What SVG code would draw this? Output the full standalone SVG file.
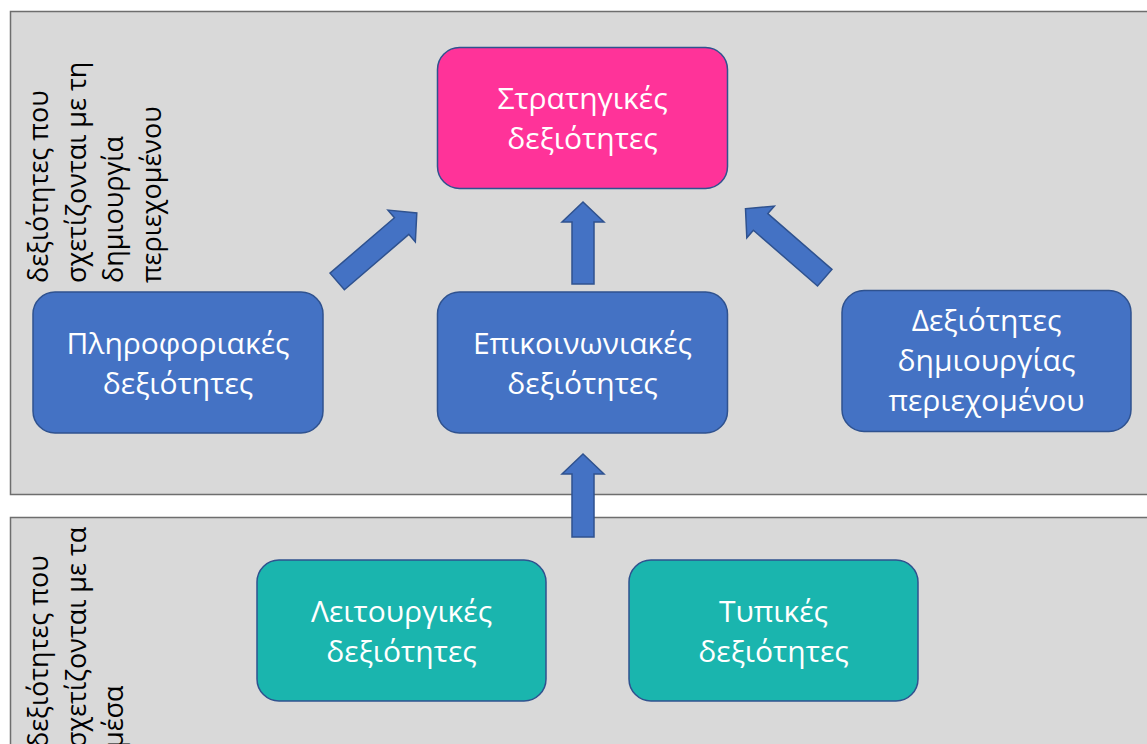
<svg xmlns="http://www.w3.org/2000/svg" width="1147" height="744" viewBox="0 0 1147 744">
  <style>
    .panel { fill: #D9D9D9; stroke: #6E6E6E; stroke-width: 1.5; }
    .box { stroke: #2F528F; stroke-width: 1.5; }
    .pink { fill: #FF3399; }
    .blue { fill: #4472C4; }
    .teal { fill: #1AB5AE; }
    .label { font-family: "Open Sans", "Noto Sans", sans-serif; font-size: 30px; fill: #FFFFFF; text-anchor: middle; }
    .side { font-family: "Open Sans", "Noto Sans", sans-serif; font-size: 27px; fill: #000000; }
    .arrow { fill: #4472C4; stroke: #2F528F; stroke-width: 1.5; stroke-linejoin: miter; }
  </style>

  <rect width="1147" height="744" fill="#FFFFFF"/>

  <!-- upper band -->
  <g id="panel-content">
    <rect class="panel" x="10.5" y="11.5" width="1150" height="483"/>
    <text class="side" transform="translate(48,283) rotate(-90)">δεξιότητες που</text>
    <text class="side" transform="translate(85.5,283) rotate(-90)">σχετίζονται με τη</text>
    <text class="side" transform="translate(123,283) rotate(-90)">δημιουργία</text>
    <text class="side" transform="translate(160.5,283) rotate(-90)">περιεχομένου</text>
  </g>

  <!-- lower band; its caption runs past the bottom edge -->
  <g id="panel-media">
    <rect class="panel" x="10.5" y="517.5" width="1150" height="240"/>
    <text class="side" transform="translate(48,748) rotate(-90)">δεξιότητες που</text>
    <text class="side" transform="translate(85.5,748) rotate(-90)">σχετίζονται με τα</text>
    <text class="side" transform="translate(123,748) rotate(-90)">μέσα</text>
  </g>

  <!-- connectors: block arrows, each drawn pointing up from its tip and rotated -->
  <g id="connectors">
    <path class="arrow" transform="translate(416.8,213) rotate(49.3)" d="M0,0 L21,20 L11,20 L11,105 L-11,105 L-11,20 L-21,20 Z"/>
    <path class="arrow" transform="translate(583,202)" d="M0,0 L21,20 L11,20 L11,82 L-11,82 L-11,20 L-21,20 Z"/>
    <path class="arrow" transform="translate(745.5,208.8) rotate(-49)" d="M0,0 L21,20 L11,20 L11,105 L-11,105 L-11,20 L-21,20 Z"/>
    <path class="arrow" transform="translate(583,454)" d="M0,0 L21,20 L11,20 L11,83 L-11,83 L-11,20 L-21,20 Z"/>
  </g>

  <g id="strategic">
    <rect class="box pink" x="437.5" y="47.5" width="290" height="141" rx="22"/>
    <text class="label" x="582.5" y="109">Στρατηγικές</text>
    <text class="label" x="582.5" y="149">δεξιότητες</text>
  </g>

  <g id="information">
    <rect class="box blue" x="33" y="292" width="290" height="141" rx="22"/>
    <text class="label" x="178" y="354">Πληροφοριακές</text>
    <text class="label" x="178" y="394">δεξιότητες</text>
  </g>

  <g id="communication">
    <rect class="box blue" x="437.5" y="292" width="290" height="141" rx="22"/>
    <text class="label" x="582.5" y="354">Επικοινωνιακές</text>
    <text class="label" x="582.5" y="394">δεξιότητες</text>
  </g>

  <g id="content-creation">
    <rect class="box blue" x="842" y="290.5" width="289" height="141" rx="22"/>
    <text class="label" x="986.5" y="331">Δεξιότητες</text>
    <text class="label" x="986.5" y="371">δημιουργίας</text>
    <text class="label" x="986.5" y="411">περιεχομένου</text>
  </g>

  <g id="operational">
    <rect class="box teal" x="257" y="560" width="289" height="141" rx="22"/>
    <text class="label" x="401.5" y="622">Λειτουργικές</text>
    <text class="label" x="401.5" y="662">δεξιότητες</text>
  </g>

  <g id="formal">
    <rect class="box teal" x="629" y="560" width="289" height="141" rx="22"/>
    <text class="label" x="773.5" y="622">Τυπικές</text>
    <text class="label" x="773.5" y="662">δεξιότητες</text>
  </g>
</svg>
